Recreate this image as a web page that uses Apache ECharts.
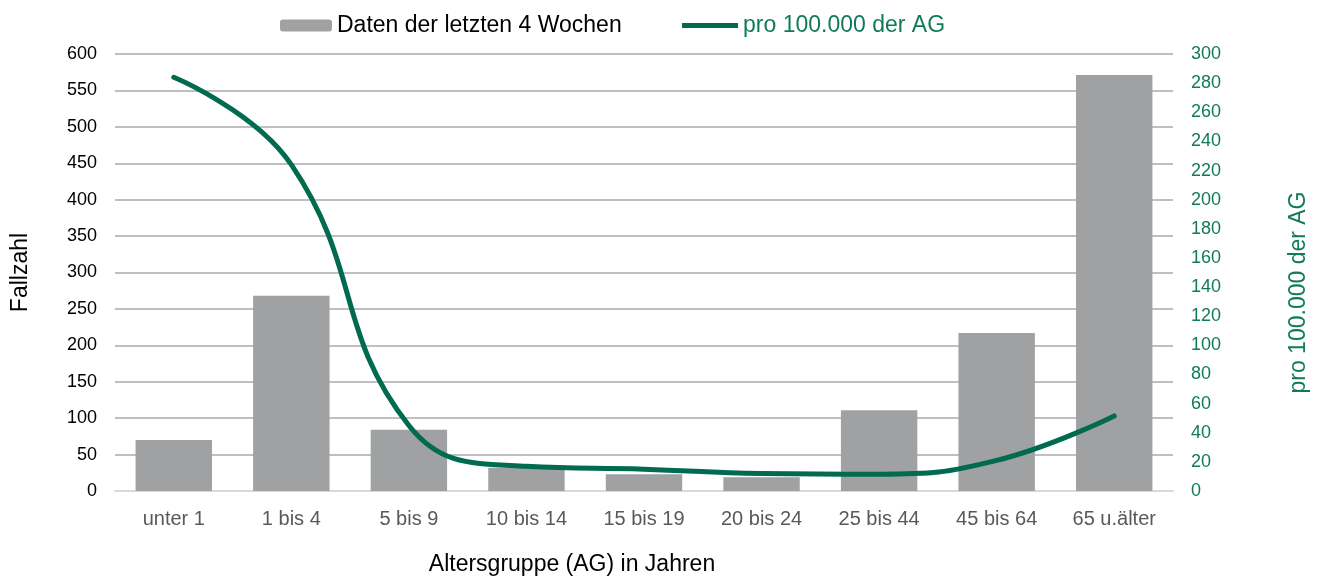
<!DOCTYPE html>
<html lang="de">
<head>
<meta charset="UTF-8">
<title>Fallzahl nach Altersgruppe</title>
<style>
  html, body { margin: 0; padding: 0; background: #fff; }
</style>
</head>
<body>
<div id="main" style="width: 1319px;height: 580px;"></div>
<script src="https://cdn.jsdelivr.net/npm/echarts@6/dist/echarts.min.js"></script>
<script>
    var categories = ['unter 1', '1 bis 4', '5 bis 9', '10 bis 14', '15 bis 19', '20 bis 24', '25 bis 44', '45 bis 64', '65 u.älter'];
    var fallzahl = [70, 268, 84, 32, 23, 19, 111, 217, 571];
    var pro100k = [284, 224, 45, 17, 15, 12, 11.5, 21, 51.5];

    var green = '#006b4f';
    var greenText = '#117a5b';
    var font = 'Liberation Sans, Arial, sans-serif';

    var chart = echarts.init(document.getElementById('main'));
    chart.setOption({
        textStyle: { fontFamily: font },
        // two legends so each item sits where it does in the original
        legend: [
            {
                top: 9,
                left: 275,
                itemWidth: 52,
                itemHeight: 12,
                textStyle: { fontSize: 23, fontFamily: font, color: '#000' },
                data: ['Daten der letzten 4 Wochen']
            },
            {
                top: 9,
                left: 677,
                itemWidth: 56,
                itemHeight: 12,
                itemGap: 4,
                textStyle: { fontSize: 23, fontFamily: font, color: greenText },
                data: [{ name: 'pro 100.000 der AG', icon: 'path://M0,0 H56 V5 H0 Z' }]
            }
        ],
        grid: { left: 115, right: 146, top: 54, bottom: 89, outerBoundsMode: 'none' },
        xAxis: {
            type: 'category',
            data: categories,
            name: 'Altersgruppe (AG) in Jahren',
            nameLocation: 'middle',
            nameGap: 62,
            nameTextStyle: { fontSize: 23, color: '#000', padding: [0, 144, 0, 0] },
            axisLine: { lineStyle: { color: '#d9d9d9', width: 2 } },
            axisTick: { show: false },
            axisLabel: { fontSize: 20, color: '#595959', margin: 18 }
        },
        yAxis: [
            {
                type: 'value',
                min: 0,
                max: 600,
                interval: 50,
                name: 'Fallzahl',
                nameLocation: 'middle',
                nameGap: 83,
                nameTextStyle: { fontSize: 23, color: '#000' },
                axisLabel: { fontSize: 18, color: '#000', margin: 18 },
                splitLine: { lineStyle: { color: '#bfbfbf', width: 2 } }
            },
            {
                type: 'value',
                min: 0,
                max: 300,
                interval: 20,
                name: 'pro 100.000 der AG',
                nameLocation: 'middle',
                nameGap: 114,
                nameRotate: 90,
                nameTextStyle: { fontSize: 23, color: greenText, padding: [0, 40, 0, 0] },
                axisLabel: { fontSize: 18, color: greenText, margin: 18 },
                splitLine: { show: false }
            }
        ],
        series: [
            {
                name: 'Daten der letzten 4 Wochen',
                type: 'bar',
                data: fallzahl,
                barWidth: '65%',
                itemStyle: { color: '#a0a1a3' }
            },
            {
                name: 'pro 100.000 der AG',
                type: 'line',
                yAxisIndex: 1,
                data: pro100k,
                smooth: 0.45,
                symbol: 'none',
                lineStyle: { color: green, width: 5, cap: 'round' },
                itemStyle: { color: green }
            }
        ]
    });
</script>
</body>
</html>
